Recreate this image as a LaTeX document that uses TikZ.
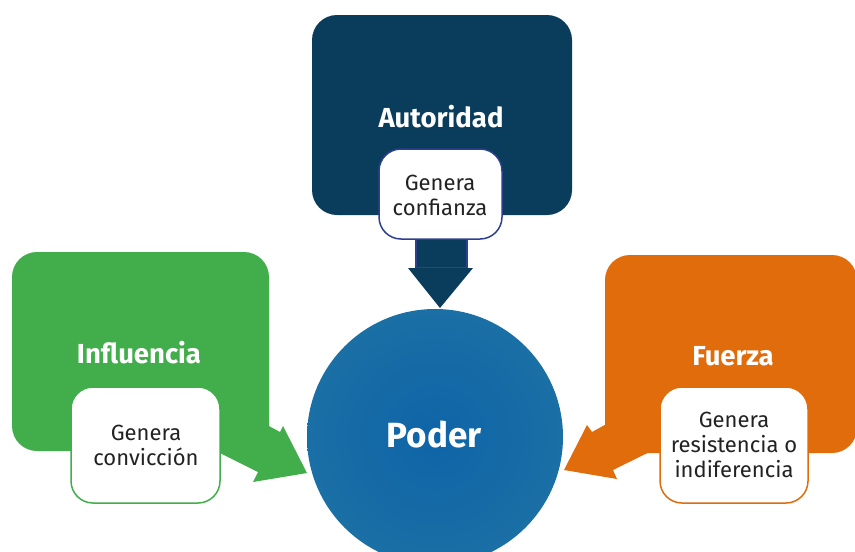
\documentclass[tikz,border=0pt]{standalone}
\usepackage{fontspec}
\setmainfont{Fira Sans}
\definecolor{autcol}{HTML}{0A3C5C}
\definecolor{autline}{HTML}{2E3F8F}
\definecolor{infcol}{HTML}{42AE4B}
\definecolor{fuecol}{HTML}{E06C0C}
\definecolor{podin}{HTML}{0F64A8}
\definecolor{podout}{HTML}{1A6FA5}
\definecolor{txtcol}{HTML}{222222}
\begin{document}
\begin{tikzpicture}[x=1pt,y=-1pt,
  bigbox/.style={rounded corners=25pt},
  smallbox/.style={draw,line width=1.5pt,fill=white,rounded corners=22pt},
  title/.style={font=\bfseries\fontsize{27.5}{30}\selectfont,text=white},
  body/.style={font=\fontsize{22}{25}\selectfont,text=txtcol,align=center}]
\useasboundingbox (0,0) rectangle (855,552);
\clip (0,0) rectangle (855,552);
% central circle
\shade[inner color=podin,outer color=podout] (435,437) circle (128);
\node[circle,minimum size=256pt,inner sep=0pt] (poder) at (435,437) {};
\node[font=\bfseries\fontsize{35}{40}\selectfont,text=white] (podertxt) at (434,435) {Poder};
% Autoridad
\fill[autcol,draw=autline,line width=2pt] (416,228) rectangle (467,268);
\fill[autcol] (408,268) -- (473,268) -- (440,308) -- cycle;
\fill[autcol,bigbox] (312,15) rectangle (572,215);
\node[title] (aut) at (441,117) {Autoridad};
\draw[smallbox,draw=autline] (379,149) rectangle (502,239);
\node[body] (conf) at (440,195) {Genera\\confianza};
% Influencia
\fill[infcol] (230,405) -- (280,432) -- (283,426) -- (307,473) -- (253,482) -- (258,472) -- (200,443) -- cycle;
\fill[infcol,bigbox] (12,252) rectangle (269,451);
\node[title] (inf) at (139,353) {Influencia};
\draw[smallbox,draw=infcol] (71,387) rectangle (220,503);
\node[body] (conv) at (146,445) {Genera\\convicción};
% Fuerza
\fill[fuecol] (650,400) -- (592,432) -- (587,425) -- (564,470) -- (617,479) -- (613,470) -- (680,437) -- cycle;
\fill[fuecol,bigbox] (605,255) rectangle (857,453);
\node[title] (fue) at (733,356) {Fuerza};
\draw[smallbox,draw=fuecol] (660,387) rectangle (808,503);
\node[body] (res) at (734,445) {Genera\\resistencia o\\indiferencia};
\end{tikzpicture}
\end{document}
